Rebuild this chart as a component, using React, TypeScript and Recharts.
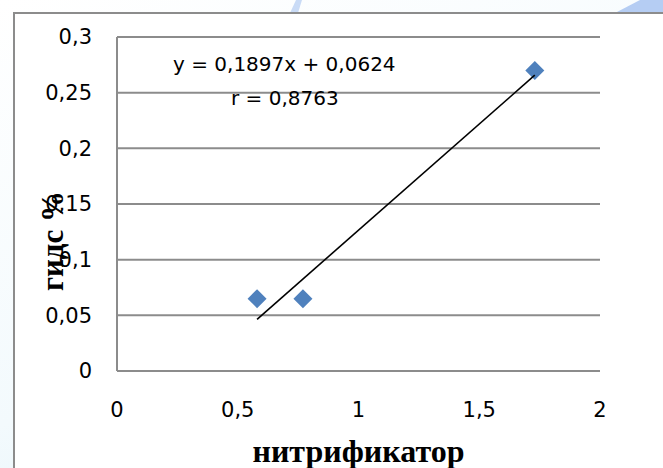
import React from 'react';
import { ScatterChart, Scatter, XAxis, YAxis, CartesianGrid, Label } from 'recharts';

const xValues = [0.58, 0.77, 1.73];
const yValues = [0.065, 0.065, 0.27];
const trendX = [0.58, 1.73];
const trendY = [0.0464, 0.2657];
const xTicks = [0, 0.5, 1, 1.5, 2];
const yTicks = [0, 0.05, 0.1, 0.15, 0.2, 0.25, 0.3];
const xTitle = 'нитрификатор';
const yTitle = 'гидс %';
const equationText = 'y = 0,1897x + 0,0624';
const rText = 'r = 0,8763';

const points = xValues.map((x, i) => ({ x, y: yValues[i] }));
const trend = trendX.map((x, i) => ({ x, y: trendY[i] }));

const fmt = (v: number) => String(v).replace('.', ',');
const tickFont = { fontFamily: 'DejaVu Sans', fontSize: 21, fill: '#000' };
const GRAY = '#8c8c8c';

const Diamond = (props: any) => {
  const { cx, cy } = props;
  const r = 9.5;
  return (
    <polygon
      points={`${cx},${cy - r} ${cx + r},${cy} ${cx},${cy + r} ${cx - r},${cy}`}
      fill="#4F81BD"
    />
  );
};

const XTitle = (props: any) => {
  const vb = props.viewBox;
  return (
    <text
      x={vb.x + vb.width / 2}
      y={462}
      textAnchor="middle"
      fontFamily="Liberation Serif"
      fontWeight="bold"
      fontSize={32}
      fill="#000"
    >
      {xTitle}
    </text>
  );
};

const YTitle = () => {
  const cx = 52;
  const cy = 241;
  return (
    <text
      x={cx}
      y={cy}
      transform={`rotate(-90 ${cx} ${cy})`}
      textAnchor="middle"
      dominantBaseline="central"
      fontFamily="Liberation Serif"
      fontWeight="bold"
      fontSize={31}
      fill="#000"
    >
      {yTitle}
    </text>
  );
};

export default function App() {
  return (
    <div
      style={{
        position: 'absolute',
        left: 0,
        top: 0,
        width: 663,
        height: 468,
        overflow: 'hidden',
        background: 'linear-gradient(160deg, #ffffff 0%, #f3fafd 60%, #dff2f8 100%)',
      }}
    >
      <svg width={663} height={468} style={{ position: 'absolute', left: 0, top: 0 }}>
        <polygon points="615,13 640,0 663,0 663,13" fill="#b5cdf3" />
        <polygon points="290,13 296,0 302,0 298,13" fill="#c9dbf6" />
        <rect x={14} y={13} width={700} height={500} fill="#ffffff" stroke={GRAY} strokeWidth={2} />
      </svg>
      <div style={{ position: 'absolute', left: 0, top: 0 }}>
        <ScatterChart width={663} height={468} margin={{ top: 37, right: 63, bottom: 0, left: 0 }}>
          <CartesianGrid horizontal={true} vertical={false} stroke={GRAY} strokeWidth={2} />
          <XAxis
            type="number"
            dataKey="x"
            domain={[0, 2]}
            ticks={xTicks}
            tickFormatter={fmt}
            height={97}
            tickSize={0}
            tickMargin={31}
            tickLine={false}
            axisLine={{ stroke: GRAY, strokeWidth: 2 }}
            tick={tickFont}
            interval={0}
          >
            <Label content={<XTitle />} />
          </XAxis>
          <YAxis
            type="number"
            dataKey="y"
            domain={[0, 0.3]}
            ticks={yTicks}
            tickFormatter={fmt}
            width={117}
            tickSize={0}
            tickMargin={25}
            tickLine={false}
            axisLine={{ stroke: GRAY, strokeWidth: 2 }}
            tick={tickFont}
            interval={0}
          >
            <Label content={<YTitle />} />
          </YAxis>
          <Scatter data={points} shape={<Diamond />} isAnimationActive={false} />
          <Scatter
            data={trend}
            line={{ stroke: '#000', strokeWidth: 1.6 }}
            shape={() => <g />}
            isAnimationActive={false}
          />
        </ScatterChart>
      </div>
      <svg width={663} height={468} style={{ position: 'absolute', left: 0, top: 0, pointerEvents: 'none' }}>
        <text x={173} y={71} fontFamily="DejaVu Sans" fontSize={20} fill="#000">
          {equationText}
        </text>
        <text x={231} y={105} fontFamily="DejaVu Sans" fontSize={20} fill="#000">
          {rText}
        </text>
      </svg>
    </div>
  );
}
